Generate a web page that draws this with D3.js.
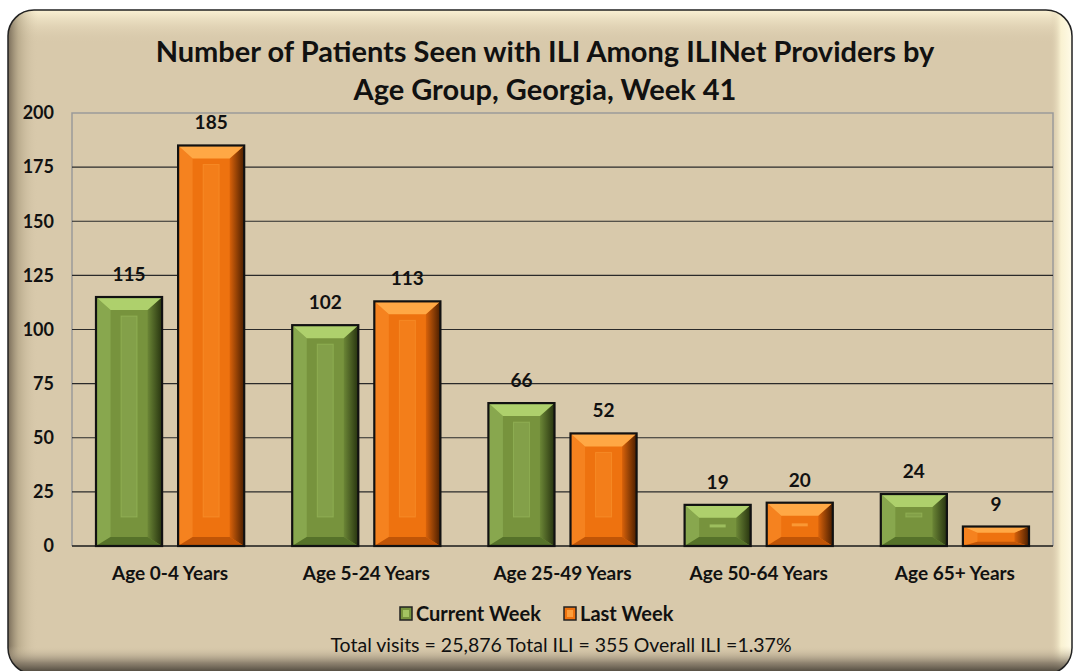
<!DOCTYPE html>
<meta charset="utf-8">
<head>
<script src="https://d3js.org/d3.v7.min.js"></script>
<style>
  body { margin: 0; background: #fff; }
  text { font-family: Lato, "Open Sans", sans-serif; fill: #111; }
</style>
<title>ILI by Age Group, Georgia, Week 41</title>
</head>
<body>
<div id="chart"></div>
<script>

// data
var categories = ["Age 0-4 Years", "Age 5-24 Years", "Age 25-49 Years", "Age 50-64 Years", "Age 65+ Years"];
var seriesNames = ["Current Week", "Last Week"];
var currentWeek = [115, 102, 66, 19, 24];
var lastWeek = [185, 113, 52, 20, 9];
var yTicks = [0, 25, 50, 75, 100, 125, 150, 175, 200];
var titleLines = ["Number of Patients Seen with ILI Among ILINet Providers by", "Age Group, Georgia, Week 41"];
var footer = "Total visits = 25,876 Total ILI = 355 Overall ILI =1.37%";

var W = 1076, H = 671;
var plot = {left: 72, right: 1053, top: 113, bottom: 546};

// colours for the bevelled bars
var palettes = {
  "Current Week": {main: "#77933d", top: "#aed06c", left: "#88a74e", right: "#3f5220", bottom: "#56722a", stripe: "#83a049"},
  "Last Week":    {main: "#ee720f", top: "#ffa845", left: "#f5821f", right: "#7a3300", bottom: "#c05507", stripe: "#f37e1a"}
};

var svg = d3.select("#chart").append("svg")
  .attr("width", W).attr("height", H);

var defs = svg.append("defs");

// frame gradients
function linGrad(id, x1, y1, x2, y2, stops) {
  var g = defs.append("linearGradient").attr("id", id)
    .attr("x1", x1).attr("y1", y1).attr("x2", x2).attr("y2", y2);
  stops.forEach(function(s) {
    g.append("stop").attr("offset", s[0]).attr("stop-color", s[1]).attr("stop-opacity", s[2]);
  });
}
linGrad("gLeft", 0, 0, 1, 0, [[0, "#6e6250", 0.9], [0.35, "#a89a7c", 0.6], [1, "#d8c9ab", 0]]);
linGrad("gTop", 0, 0, 0, 1, [[0, "#fff6d8", 0.9], [1, "#d8c9ab", 0]]);
linGrad("gRight", 0, 0, 1, 0, [[0, "#d8c9ab", 0], [0.5, "#fdf6d6", 0.9], [1, "#fffbe8", 1]]);
linGrad("gBottom", 0, 0, 0, 1, [[0, "#d8c9ab", 0], [0.6, "#7d7262", 0.8], [1, "#3e3930", 1]]);
linGrad("gBarRightG", 0, 0, 1, 0, [[0, "#6b8636", 1], [1, "#27330f", 1]]);
linGrad("gBarRightO", 0, 0, 1, 0, [[0, "#d9620a", 1], [1, "#4a1e00", 1]]);

defs.append("clipPath").attr("id", "frameClip")
  .append("rect").attr("x", 8).attr("y", 10).attr("width", 1064).attr("height", 664).attr("rx", 26);

// outer frame
svg.append("rect")
  .attr("x", 8).attr("y", 10).attr("width", 1064).attr("height", 664).attr("rx", 26)
  .attr("fill", "#d8c9ab");

var shade = svg.append("g").attr("clip-path", "url(#frameClip)");
shade.append("rect").attr("x", 8).attr("y", 10).attr("width", 1064).attr("height", 34).attr("fill", "url(#gTop)");
shade.append("rect").attr("x", 8).attr("y", 10).attr("width", 30).attr("height", 664).attr("fill", "url(#gLeft)");
shade.append("rect").attr("x", 1050).attr("y", 10).attr("width", 22).attr("height", 664).attr("fill", "url(#gRight)");
shade.append("rect").attr("x", 8).attr("y", 646).attr("width", 1064).attr("height", 28).attr("fill", "url(#gBottom)");

svg.append("rect")
  .attr("x", 8).attr("y", 10).attr("width", 1064).attr("height", 664).attr("rx", 26)
  .attr("fill", "none").attr("stroke", "#222").attr("stroke-width", 1.5);

// scales
var y = d3.scaleLinear().domain([0, 200]).range([plot.bottom, plot.top]);
var x0 = d3.scaleBand().domain(categories).range([plot.left, plot.right]).padding(0);
var x1 = d3.scaleBand().domain(seriesNames)
  .range([24, x0.bandwidth() - 24]).paddingInner(0.195);

// plot border (grey) and grid lines
svg.append("path")
  .attr("d", "M" + plot.left + "," + plot.bottom + "V" + plot.top + "H" + plot.right + "V" + plot.bottom)
  .attr("fill", "none").attr("stroke", "#9a9a9a").attr("stroke-width", 1.5);

svg.append("g").selectAll("line")
  .data(yTicks.filter(function(d) { return d > 0 && d < 200; }))
  .join("line")
    .attr("x1", plot.left).attr("x2", plot.right)
    .attr("y1", function(d) { return y(d); }).attr("y2", function(d) { return y(d); })
    .attr("stroke", "#2a2a2a").attr("stroke-width", 1.2);

svg.append("line")
  .attr("x1", plot.left).attr("x2", plot.right)
  .attr("y1", y(0)).attr("y2", y(0))
  .attr("stroke", "#1a1a1a").attr("stroke-width", 1.5);

// y axis labels
var yAxis = svg.append("g")
  .attr("transform", "translate(" + (plot.left - 18) + ",0)")
  .call(d3.axisLeft(y).tickValues(yTicks).tickSize(0).tickPadding(0));
yAxis.select(".domain").remove();
yAxis.selectAll("text")
  .style("font-family", "Lato, sans-serif")
  .style("font-size", "18px").style("font-weight", "bold").attr("fill", "#111");

// x axis labels
var xAxis = svg.append("g")
  .attr("transform", "translate(0," + (plot.bottom + 20) + ")")
  .call(d3.axisBottom(x0).tickSize(0).tickPadding(0));
xAxis.select(".domain").remove();
xAxis.selectAll("text")
  .style("font-family", "Lato, sans-serif")
  .style("font-size", "19px").style("font-weight", "bold").attr("fill", "#111");

// bevelled bar
function bevelBar(g, bx, by, bw, bh, pal, rightGrad) {
  var bt = Math.min(13, bh * 0.32);
  var bb = Math.min(9, bh * 0.22);
  var bs = Math.min(15, bw * 0.22);
  g.append("rect").attr("x", bx).attr("y", by).attr("width", bw).attr("height", bh).attr("fill", pal.main);
  // left bevel
  g.append("path").attr("fill", pal.left)
    .attr("d", "M" + bx + "," + by + "L" + (bx + bs) + "," + (by + bt) + "L" + (bx + bs) + "," + (by + bh - bb) + "L" + bx + "," + (by + bh) + "Z");
  // right bevel
  g.append("path").attr("fill", "url(#" + rightGrad + ")")
    .attr("d", "M" + (bx + bw) + "," + by + "L" + (bx + bw - bs) + "," + (by + bt) + "L" + (bx + bw - bs) + "," + (by + bh - bb) + "L" + (bx + bw) + "," + (by + bh) + "Z");
  // bottom bevel
  g.append("path").attr("fill", pal.bottom)
    .attr("d", "M" + bx + "," + (by + bh) + "L" + (bx + bs) + "," + (by + bh - bb) + "L" + (bx + bw - bs) + "," + (by + bh - bb) + "L" + (bx + bw) + "," + (by + bh) + "Z");
  // top bevel
  g.append("path").attr("fill", pal.top)
    .attr("d", "M" + bx + "," + by + "L" + (bx + bw) + "," + by + "L" + (bx + bw - bs) + "," + (by + bt) + "L" + (bx + bs) + "," + (by + bt) + "Z");
  // inner raised stripe
  var sh = bh - bt - bb - 26;
  if (sh > 2) {
    g.append("rect")
      .attr("x", bx + bw / 2 - 8).attr("y", by + bt + 6)
      .attr("width", 16).attr("height", sh)
      .attr("fill", pal.stripe).attr("stroke", pal.top).attr("stroke-opacity", 0.35).attr("stroke-width", 1);
  } else if (bh > 30) {
    g.append("rect")
      .attr("x", bx + bw / 2 - 8).attr("y", by + bh / 2 - 1)
      .attr("width", 16).attr("height", 3).attr("fill", pal.top).attr("opacity", 0.7);
  }
  g.append("rect").attr("x", bx).attr("y", by).attr("width", bw).attr("height", bh)
    .attr("fill", "none").attr("stroke", "#111").attr("stroke-width", 2.2);
}

var rows = categories.map(function(c, i) {
  return {cat: c, values: [
    {name: "Current Week", value: currentWeek[i]},
    {name: "Last Week", value: lastWeek[i]}
  ]};
});

var groups = svg.append("g").selectAll("g")
  .data(rows).join("g")
    .attr("transform", function(d) { return "translate(" + x0(d.cat) + ",0)"; });

groups.each(function(d) {
  var g = d3.select(this);
  d.values.forEach(function(v) {
    var bx = x1(v.name), by = y(v.value), bh = y(0) - y(v.value);
    bevelBar(g.append("g"), bx, by, x1.bandwidth(), bh, palettes[v.name],
      v.name === "Current Week" ? "gBarRightG" : "gBarRightO");
    g.append("text")
      .attr("x", bx + x1.bandwidth() / 2).attr("y", by - 16)
      .attr("text-anchor", "middle")
      .style("font-size", "19px").style("font-weight", "bold")
      .text(v.value);
  });
});

// title
svg.append("g").selectAll("text")
  .data(titleLines).join("text")
    .attr("x", 545).attr("y", function(d, i) { return 62 + i * 38; })
    .attr("text-anchor", "middle")
    .style("font-size", "29px").style("font-weight", "bold")
    .text(function(d) { return d; });

// legend
var legend = svg.append("g").attr("transform", "translate(400,607)");
var legendX = [0, 164];
seriesNames.forEach(function(s, i) {
  var lg = legend.append("g").attr("transform", "translate(" + legendX[i] + ",0)");
  lg.append("rect").attr("x", 0).attr("y", 0).attr("width", 12).attr("height", 13)
    .attr("fill", palettes[s].main).attr("stroke", "#222").attr("stroke-width", 1.5);
  lg.append("rect").attr("x", 3).attr("y", 3).attr("width", 6).attr("height", 7)
    .attr("fill", palettes[s].top).attr("opacity", 0.8);
  lg.append("text").attr("x", 16).attr("y", 14)
    .style("font-size", "20px").style("font-weight", "bold")
    .text(s);
});

// footer
svg.append("text")
  .attr("x", 561).attr("y", 652)
  .attr("text-anchor", "middle")
  .style("font-size", "19.5px")
  .text(footer);

</script>
</body>
</html>
